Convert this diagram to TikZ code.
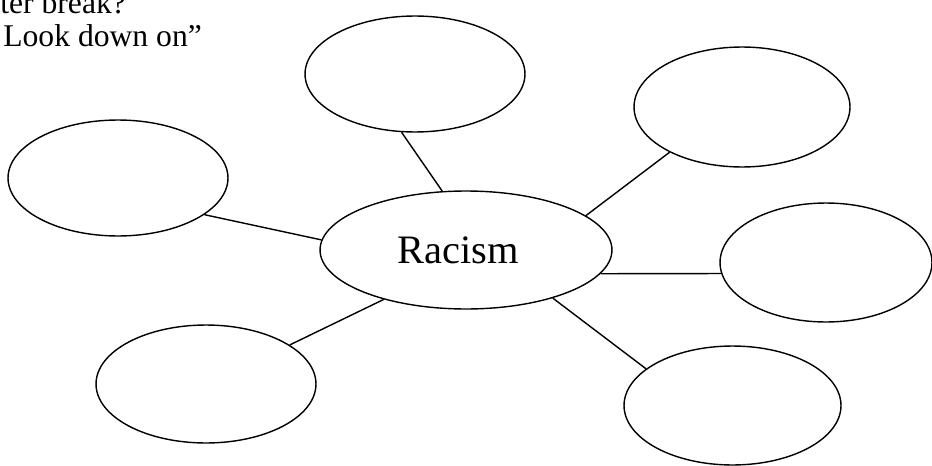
\documentclass[tikz,border=0pt]{standalone}
\usepackage{fontspec}
\setmainfont{Liberation Serif}
\usetikzlibrary{shapes.geometric}
\tikzset{
    bubble/.style={draw, ellipse, line width=0.8pt, inner sep=0pt},
    spoke/.style={line width=0.8pt},
    note/.style={anchor=base west, inner sep=0pt, font=\fontsize{18}{21}\selectfont}
}
\begin{document}
\begin{tikzpicture}[x=0.02cm, y=-0.02cm]
    \useasboundingbox (0, 0) rectangle (932, 466);
    \node[note] (note1) at (0, 14) {ter break?};
    \node[note] (note2) at (3, 47) {Look down on”};
    \node[bubble, minimum width=5.84cm, minimum height=2.36cm] (racism) at (466, 250) {};
    \node[anchor=base, inner sep=0pt, font=\fontsize{23}{27}\selectfont] (racismtext) at (458, 263) {Racism};
    \node[bubble, minimum width=4.4cm, minimum height=2.32cm] (top) at (415, 74) {};
    \node[bubble, minimum width=4.32cm, minimum height=2.4cm] (topright) at (742, 107) {};
    \node[bubble, minimum width=4.4cm, minimum height=2.32cm] (left) at (118, 178) {};
    \node[bubble, minimum width=4.24cm, minimum height=2.38cm] (right) at (826, 262.5) {};
    \node[bubble, minimum width=4.4cm, minimum height=2.36cm] (botleft) at (206, 384) {};
    \node[bubble, minimum width=4.34cm, minimum height=2.38cm] (botright) at (732.5, 405.5) {};
    \draw[spoke] (racism.112) -- (top.257);
    \draw[spoke] (racism.16) -- (topright.212);
    \draw[spoke] (racism.176) -- (left.-23);
    \draw[spoke] (racism.-10) -- (right.186);
    \draw[spoke] (racism.211) -- (botleft.25);
    \draw[spoke] (racism.-29) -- (botright.157);
\end{tikzpicture}
\end{document}
